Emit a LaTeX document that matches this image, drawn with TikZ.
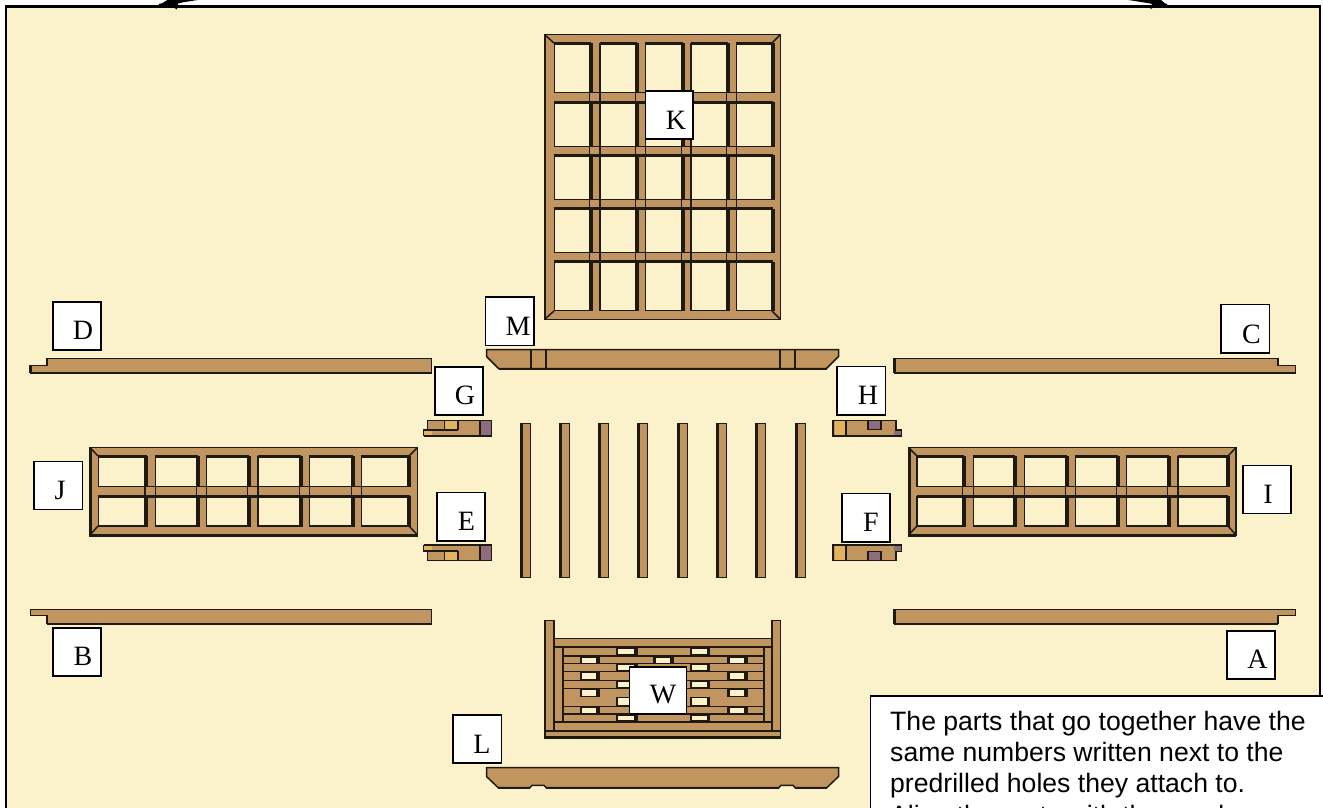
\documentclass[tikz,border=0pt]{standalone}
\usepackage{fontspec}
\setmainfont{Liberation Serif}
\newfontfamily\notefont{Liberation Sans}
\usetikzlibrary{arrows.meta}
\definecolor{cream}{HTML}{FBF1CA}
\definecolor{tan}{HTML}{C09560}
\definecolor{ink}{HTML}{1E1A12}
\definecolor{yel}{HTML}{E3B25C}
\definecolor{plum}{HTML}{8E6C80}
\tikzset{
  wood/.style={fill=tan,draw=ink,line width=1.5pt,line join=miter},
  thinline/.style={draw=ink,line width=1.5pt},
  heavy/.style={draw=ink,line width=3pt,line cap=butt},
  panefill/.style={draw=ink,line width=1.8pt},
  labbox/.style={draw=black,line width=1.8pt,fill=white,minimum width=#1,inner sep=0pt},
  labtext/.style={anchor=base,inner sep=0pt,font=\fontsize{28}{30}\selectfont},
  notetext/.style={anchor=base west,inner sep=0pt,font=\notefont\fontsize{26.6}{31}\selectfont},
  gap/.style={fill=cream,draw=ink,line width=1.2pt},
}
% pane with shadowed top and right edges
\newcommand{\pane}[4]{%
  \fill[cream] (#1,#2) rectangle (#3,#4);
  \draw[panefill] (#1,#2) rectangle (#3,#4);
  \draw[heavy] (#1-.5,#2-1) -- (#3+1.5,#2-1);
  \draw[heavy] (#3+1.5,#2-1) -- (#3+1.5,#4+.6);
}
% label: name, x1,y1,x2,y2, letter, text x, baseline y
\newcommand{\lab}[8]{%
  \node[labbox=#4-#2,minimum height=#5-#3] (#1) at ({(#2+#4)/2},{(#3+#5)/2}) {};
  \node[labtext] (#1t) at (#7,#8) {#6};
}
\begin{document}
\begin{tikzpicture}[x=1pt,y=-1pt]
\useasboundingbox (0,0) rectangle (1323,807);
\clip (0,0) rectangle (1323,807);
\fill[white] (0,0) rectangle (1323,807);
% panel
\node[draw=black,line width=2.4pt,fill=cream,minimum width=1314pt,minimum height=830pt,inner sep=0pt,outer sep=0pt,anchor=north west] (panel) at (6.2,6.5) {};
% double arrow, mostly off the page
\coordinate (arrL) at (159,5.2);
\coordinate (arrR) at (1167,5.2);
\draw[line width=2.6pt] (arrL) .. controls (400,-40) and (926,-40) .. (arrR);
\fill[black] (arrL) -- (169,-1) -- (192,-1) -- (178,3.5) -- (177,9.5) -- (172,6.5) -- cycle;
\fill[black] (arrR) -- (1160,-1) -- (1138,-1) -- (1152,3) -- (1150.5,9.5) -- (1154,6.5) -- cycle;

% ---- window K
\draw[wood] (544.5,34.5) rectangle (780.5,319.5);
\foreach \x/\xx in {554.5/589.5,600/635.5,645.5/681.5,691/726.5,736.5/771.5}
  \foreach \y/\yy in {44/92.5,103/146.5,156/199.5,209.5/252.5,262.5/310.5}
    {\pane{\x}{\y}{\xx}{\yy}}
\foreach \x in {589.5,600,635.5,645.5,681.5,691,726.5,736.5}
  \foreach \y/\yy in {92.5/103,146.5/156,199.5/209.5,252.5/262.5}
    {\draw[thinline] (\x,\y) -- (\x,\yy);}
\foreach \y/\yy in {92.5/103,146.5/156,199.5/209.5,252.5/262.5}
  {\draw[thinline] (554.5,\y) -- (771.5,\y);
   \draw[heavy] (554.5,\yy-1) -- (771.5,\yy-1);}
\draw[thinline] (544.5,34.5) -- (554,43) (780.5,34.5) -- (772,43) (544.5,319.5) -- (554,311) (780.5,319.5) -- (772,311);
\draw[draw=ink,line width=2.4pt] (545,34) -- (545,320);

% ---- window J
\draw[wood] (90,447.5) rectangle (417.5,535);
\foreach \x/\xx in {98.5/145,155.5/196.5,206.5/247.5,258/299.5,309.5/351.5,361.5/408}
  \foreach \y/\yy in {457/486.5,497/526}
    {\pane{\x}{\y}{\xx}{\yy}}
\foreach \x in {145,155.5,196.5,206.5,247.5,258,299.5,309.5,351.5,361.5}
  {\draw[thinline] (\x,486.5) -- (\x,497);}
\draw[thinline] (98.5,486.5) -- (408,486.5);
\draw[heavy] (98.5,496) -- (408,496);
\draw[thinline] (90,447.5) -- (98,456) (417.5,447.5) -- (409,456) (90,535) -- (98,526) (417.5,535) -- (409,526);
\draw[draw=ink,line width=3pt] (90.5,447) -- (90.5,535.5) -- (417.5,535.5);

% ---- window I
\draw[wood] (908.5,447.5) rectangle (1236,535);
\foreach \x/\xx in {917/962.5,973.5/1013.5,1024.5/1065.5,1075.5/1116.5,1126.5/1167.5,1178/1226.5}
  \foreach \y/\yy in {457/486.5,497/526}
    {\pane{\x}{\y}{\xx}{\yy}}
\foreach \x in {962.5,973.5,1013.5,1024.5,1065.5,1075.5,1116.5,1126.5,1167.5,1178}
  {\draw[thinline] (\x,486.5) -- (\x,497);}
\draw[thinline] (917,486.5) -- (1226.5,486.5);
\draw[heavy] (917,496) -- (1226.5,496);
\draw[thinline] (908.5,447.5) -- (917,456) (1236,447.5) -- (1228,456) (908.5,535) -- (917,526) (1236,535) -- (1228,526);
\draw[draw=ink,line width=3pt] (909,447) -- (909,535.5) -- (1236,535.5);

% ---- long stepped boards
\draw[wood] (47,358.5) -- (431.5,358.5) -- (431.5,372.5) -- (30.5,372.5) -- (30.5,365.5) -- (47,365.5) -- cycle;
\draw[wood] (894,358.5) -- (1278,358.5) -- (1278,365.5) -- (1295.5,365.5) -- (1295.5,372.5) -- (894,372.5) -- cycle;
\draw[wood] (30.5,609.5) -- (431.5,609.5) -- (431.5,623.5) -- (47,623.5) -- (47,615.5) -- (30.5,615.5) -- cycle;
\draw[wood] (894,609.5) -- (1295.5,609.5) -- (1295.5,615.5) -- (1278,615.5) -- (1278,623.5) -- (894,623.5) -- cycle;
\draw[draw=ink,line width=2.2pt] (431.5,372.8) -- (30,372.8) (894,372.8) -- (1295.5,372.8) (431.5,623.8) -- (47,623.8) (894,623.8) -- (1278,623.8) (894.5,358.5) -- (894.5,373) (894.5,609.5) -- (894.5,624) (30.5,365) -- (30.5,373) (47,358) -- (47,366) (47,616) -- (47,624);

% ---- rail M
\draw[wood] (486.5,349.5) -- (838.5,349.5) -- (838.5,356.5) -- (826.5,368.5) -- (498.5,368.5) -- (486.5,356.5) -- cycle;
\draw[thinline] (531,349.5) -- (531,368.5) (546,349.5) -- (546,368.5) (780,349.5) -- (780,368.5) (795,349.5) -- (795,368.5);
\draw[draw=ink,line width=2pt] (498.5,368.8) -- (826.5,368.8);

% ---- rail L
\draw[wood] (486.5,767.5) -- (838.5,767.5) -- (838.5,776.5) -- (827,787.5) -- (795,787.5) -- (793,785.3) -- (781,785.3) -- (779,787.5) -- (546,787.5) -- (544,785.3) -- (532,785.3) -- (530,787.5) -- (498,787.5) -- (486.5,776.5) -- cycle;
\draw[draw=ink,line width=2pt] (498,788) -- (530,788) (546,788) -- (779,788) (795,788) -- (827,788);

% ---- blocks G, E (left)
\foreach \yy/\s in {420/1,561/-1}{
  \begin{scope}[shift={(0,\yy)},yscale=\s]
    \draw[wood] (427.5,.5) -- (491.5,.5) -- (491.5,15.5) -- (423.5,15.5) -- (423.5,10) -- (427.5,10) -- cycle;
    \fill[plum] (480,1) rectangle (491,15);
    \draw[draw=ink,line width=2pt] (480,.5) -- (480,15.5);
    \fill[yel] (445,1) rectangle (458,9.5);
    \fill[yel] (424,10.5) rectangle (432,15);
    \draw[thinline] (444.5,.5) -- (444.5,10) (458,.5) -- (458,10) (423.5,10) -- (458,10);
    \draw[draw=ink,line width=2.4pt] (423.5,16) -- (491.5,16);
    \draw[draw=ink,line width=1.8pt] (491.5,.5) -- (491.5,16);
  \end{scope}
}
% ---- blocks H, F (right)
\foreach \yy/\s in {420/1,561/-1}{
  \begin{scope}[shift={(0,\yy)},yscale=\s]
    \draw[wood] (833,.5) -- (896,.5) -- (896,10) -- (901.5,10) -- (901.5,15.5) -- (833,15.5) -- cycle;
    \fill[yel] (835,1) rectangle (845.5,15);
    \draw[thinline] (846,.5) -- (846,15.5);
    \fill[plum] (868,1) rectangle (881,9);
    \draw[thinline] (868,.5) rectangle (881,9.5);
    \fill[plum] (894,10.5) rectangle (901,15);
    \draw[draw=ink,line width=2.4pt] (833,.5) -- (833,16) -- (901.5,16);
  \end{scope}
}

% ---- slats
\foreach \x in {520.5,559.5,598.5,637.5,677.5,716.5,755.5,795.5}{
  \draw[wood] (\x,423.5) rectangle (\x+10,577.5);
  \draw[draw=ink,line width=3pt] (\x+.5,423.5) -- (\x+.5,577.5);
}

% ---- basket W
\fill[ink] (562,647) rectangle (765,722);
\foreach \y/\yy in {648.3/655,664.3/671,681/688,697.3/705.7,714.7/721}{
  \foreach \x/\xx in {563.5/615.5,637.5/689.5,709.5/763}{
    \fill[tan] (\x,\y) rectangle (\xx,\yy);}
  \foreach \x/\xx in {617.5/634.5,691.5/707.5}{
    \draw[gap] (\x,\y+.2) rectangle (\xx,\yy-.2);}
}
\foreach \y/\yy in {656.7/663.3,672.3/680,689.3/696.7,706.7/713.3}{
  \foreach \x/\xx in {563.5/579.5,600/652.5,673.5/726.5,747.5/763}{
    \fill[tan] (\x,\y) rectangle (\xx,\yy);}
  \foreach \x/\xx in {581.5/597,655/671,729/745}{
    \draw[gap] (\x,\y+.2) rectangle (\xx,\yy-.2);}
}
\draw[wood] (554,647) rectangle (563,722);
\draw[wood] (764,647) rectangle (772,722);
\draw[wood] (554,638.5) rectangle (772,647);
\draw[wood] (554,722) rectangle (772,731);
\draw[wood] (544.5,620.5) rectangle (554,731);
\draw[wood] (772,620.5) rectangle (780.5,731);
\draw[wood] (544.5,731) rectangle (780.5,736.5);
\draw[draw=ink,line width=2.4pt] (544.8,620.5) -- (544.8,737.5) -- (780.5,737.5);
\draw[draw=ink,line width=2.4pt] (772,620.5) -- (772,638.5);

% ---- labels
\lab{K}{645.5}{91}{693}{139}{K}{676}{129}
\lab{M}{485.5}{297}{534}{345.5}{M}{518}{335}
\lab{G}{435}{367}{483}{415}{G}{465}{404}
\lab{E}{437}{492.5}{485}{541}{E}{466.5}{530}
\lab{H}{837}{366.5}{885.5}{415}{H}{868}{404}
\lab{F}{842}{493.5}{890}{542}{F}{871}{531}
\lab{D}{53}{302}{101}{350}{D}{83}{339}
\lab{C}{1221}{304.5}{1269.5}{353}{C}{1251.5}{343}
\lab{B}{53}{628}{101}{676}{B}{83}{665}
\lab{A}{1227}{631}{1275}{679}{A}{1257.5}{668}
\lab{J}{34}{461.5}{82.5}{509.5}{J}{60}{499}
\lab{I}{1243}{465.5}{1291}{513.5}{I}{1268}{503}
\lab{W}{629.5}{667}{686.5}{714}{W}{663}{703}
\lab{L}{453}{715}{501.5}{763}{L}{482}{753}

% ---- note
\node[draw=black,line width=1.8pt,fill=white,anchor=north west,minimum width=470pt,minimum height=140pt,inner sep=0pt] (noteBox) at (869.5,695) {};
\node[notetext] (n1) at (890,730) {The parts that go together have the};
\node[notetext] (n2) at (890,761.5) {same numbers written next to the};
\node[notetext] (n3) at (890,792.5) {predrilled holes they attach to.};
\node[notetext] (n4) at (890,824) {Align the parts with the numbers};
\end{tikzpicture}
\end{document}
